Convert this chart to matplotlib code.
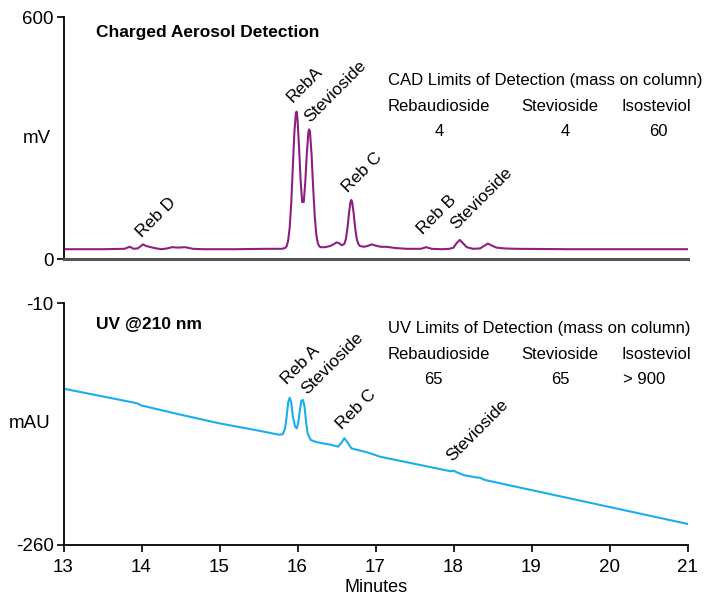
import numpy as np
import matplotlib
matplotlib.use("Agg")
import matplotlib.pyplot as plt

# ---- data ----
cad_t = [13.00, 13.50, 13.78, 13.85, 13.90, 13.95, 13.98, 14.02, 14.06, 14.12,
         14.19, 14.26, 14.33, 14.39, 14.47, 14.56, 14.66, 14.80, 15.20, 15.60,
         15.80, 15.84, 15.86, 15.88, 15.90, 15.92, 15.94, 15.96, 15.98, 15.99,
         16.00, 16.02, 16.04, 16.06, 16.08, 16.10, 16.12, 16.14, 16.15, 16.16,
         16.18, 16.20, 16.22, 16.24, 16.26, 16.28, 16.30, 16.35, 16.42, 16.47,
         16.50, 16.53, 16.57, 16.60, 16.62, 16.64, 16.66, 16.68, 16.69, 16.70,
         16.72, 16.74, 16.76, 16.78, 16.80, 16.85, 16.90, 16.95, 17.00, 17.07,
         17.14, 17.25, 17.40, 17.58, 17.65, 17.72, 17.85, 17.95, 18.00, 18.04,
         18.08, 18.12, 18.17, 18.25, 18.34, 18.40, 18.44, 18.48, 18.55, 18.65,
         18.80, 19.50, 20.50, 21.00]
cad_mv = [25, 25, 26, 31, 26, 27, 31, 37, 33, 30,
          27, 25, 27, 30, 29, 30, 26, 25, 25, 26,
          26, 28, 32, 46, 79, 140, 228, 315, 364, 366,
          348, 278, 195, 142, 142, 192, 264, 316, 322, 316,
          261, 181, 110, 63, 40, 32, 30, 30, 33, 38,
          42, 40, 35, 38, 50, 76, 114, 143, 147, 143,
          114, 76, 50, 38, 33, 31, 33, 37, 34, 31,
          31, 28, 26, 26, 30, 26, 25, 26, 29, 40,
          48, 40, 30, 26, 27, 34, 39, 35, 29, 27,
          26, 25, 25, 25]

uv_t = [13.00, 13.50, 13.90, 13.95, 14.00, 14.50, 15.00, 15.50, 15.76, 15.81,
        15.84, 15.86, 15.88, 15.90, 15.92, 15.94, 15.97, 15.99, 16.01, 16.03,
        16.05, 16.07, 16.09, 16.11, 16.13, 16.17, 16.25, 16.35, 16.44, 16.52,
        16.56, 16.60, 16.64, 16.69, 16.82, 16.89, 16.97, 17.06, 17.57, 17.96,
        18.00, 18.04, 18.13, 18.28, 18.34, 18.40, 18.60, 19.00, 20.00, 21.00]
uv_mau = [-98.6, -106.6, -113.0, -114.0, -116.0, -125.5, -134.5, -142.0, -146.2, -145.8,
          -140.0, -128.0, -113.0, -108.0, -113.0, -127.0, -138.0, -139.6, -134.0, -121.0,
          -111.0, -110.3, -117.0, -133.0, -145.0, -151.7, -154.0, -155.5, -156.8, -158.6,
          -155.0, -149.9, -154.0, -160.3, -163.0, -164.4, -166.5, -169.0, -177.5, -184.0,
          -183.5, -185.0, -188.0, -190.3, -190.8, -193.0, -196.5, -203.5, -221.0, -238.5]

cad_peaks = ["Reb D", "RebA", "Stevioside", "Reb C", "Reb B", "Stevioside"]
cad_peak_pos = [(14.00, 52), (15.94, 387), (16.16, 337), (16.65, 164), (17.61, 60), (18.04, 72)]
uv_peaks = ["Reb A", "Stevioside", "Reb C", "Stevioside"]
uv_peak_pos = [(15.87, -95), (16.12, -105), (16.57, -141), (17.98, -174)]

lod_cols = ["Rebaudioside", "Stevioside", "Isosteviol"]
cad_lod = ["4", "4", "60"]
uv_lod = ["65", "65", "> 900"]

W, H = 709, 596
plt.rcParams["font.family"] = ["Liberation Sans", "DejaVu Sans"]
plt.rcParams["axes.unicode_minus"] = False

fig = plt.figure(figsize=(W / 100, H / 100), dpi=100)


def fx(px):
    return px / W


def fy(py):
    return 1 - py / H


ax1 = fig.add_axes([fx(63.5), fy(259.3), fx(687.5) - fx(63.5), fy(17.3) - fy(259.3)])
ax2 = fig.add_axes([fx(63.5), fy(544.7), fx(687.5) - fx(63.5), fy(303) - fy(544.7)])

ax1.plot(cad_t, cad_mv, color="#8e1e82", lw=1.5)
ax2.plot(uv_t, uv_mau, color="#19aeef", lw=1.5)

ax1.set_xlim(13, 21)
ax1.set_ylim(0, 600)
ax2.set_xlim(13, 21)
ax2.set_ylim(-260, -10)

for ax in (ax1, ax2):
    ax.spines["top"].set_visible(False)
    ax.spines["right"].set_visible(False)
    ax.spines["left"].set_linewidth(1.3)
    ax.tick_params(axis="both", direction="out", length=5, width=1.2, labelsize=13.5, pad=2)
ax2.tick_params(axis="x", pad=5)

ax1.spines["bottom"].set_color("#555555")
ax1.spines["bottom"].set_linewidth(2.2)
ax1.set_xticks([])
ax1.set_yticks([0, 600])
ax2.set_yticks([-260, -10])
ax2.set_xticks(range(13, 22))
ax2.spines["bottom"].set_linewidth(1.3)

ax1.text(-0.02, 0.5, "mV", transform=ax1.transAxes, ha="right", va="center", fontsize=13.5)
ax2.text(-0.02, 0.5, "mAU", transform=ax2.transAxes, ha="right", va="center", fontsize=13.5)
fig.text(fx(376), fy(587), "Minutes", ha="center", va="center", fontsize=13)

fig.text(fx(96), fy(33), "Charged Aerosol Detection", fontsize=12.5, fontweight="bold",
         ha="left", va="center")
fig.text(fx(96), fy(325), "UV @210 nm", fontsize=12.5, fontweight="bold",
         ha="left", va="center")

for lab, (x, y) in zip(cad_peaks, cad_peak_pos):
    ax1.text(x, y, lab, rotation=45, rotation_mode="anchor", ha="left", va="baseline",
             fontsize=12.5)
for lab, (x, y) in zip(uv_peaks, uv_peak_pos):
    ax2.text(x, y, lab, rotation=45, rotation_mode="anchor", ha="left", va="baseline",
             fontsize=12.5)

col_left = [388, 521.7, 621.7]
val_center = [[439, 565, 658.3], [433.3, 560, 644.5]]
for k, (head, vals, y0) in enumerate([("CAD Limits of Detection (mass on column)", cad_lod, 80.7),
                                      ("UV Limits of Detection (mass on column)", uv_lod, 328.3)]):
    fig.text(fx(388), fy(y0), head, ha="left", va="center", fontsize=12)
    for c, name in enumerate(lod_cols):
        fig.text(fx(col_left[c]), fy(y0 + 26), name, ha="left", va="center", fontsize=12)
        fig.text(fx(val_center[k][c]), fy(y0 + 51), vals[c], ha="center", va="center", fontsize=12)

fig.savefig("out.png", dpi=100)
